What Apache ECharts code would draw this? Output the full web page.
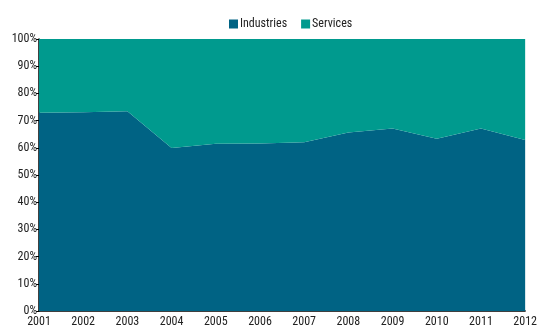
<!DOCTYPE html>
<html>
<head>
<meta charset="utf-8">
<script src="https://cdn.jsdelivr.net/npm/echarts@6/dist/echarts.min.js"></script>
<style>
html,body{margin:0;padding:0;background:#fff;}
#chart{width:540px;height:328px;}
</style>
</head>
<body>
<div id="chart"></div>
<script>
// Share of industries vs services, percent of total
const years = ['2001','2002','2003','2004','2005','2006','2007','2008','2009','2010','2011','2012'];
const industries = [72.9, 73.1, 73.4, 59.9, 61.5, 61.6, 62.0, 65.6, 67.1, 63.3, 67.1, 62.9];
const services = [27.1, 26.9, 26.6, 40.1, 38.5, 38.4, 38.0, 34.4, 32.9, 36.7, 32.9, 37.1];
const yTicks = [0, 10, 20, 30, 40, 50, 60, 70, 80, 90, 100];

const font = '"Liberation Sans Narrow", "Roboto Condensed", "DejaVu Sans Condensed", Arial, sans-serif';

const chart = echarts.init(document.getElementById('chart'));
chart.setOption({
  animation: false,
  textStyle: { fontFamily: font },
  legend: {
    top: 13,
    left: 224,
    itemWidth: 9,
    itemHeight: 9,
    itemGap: 14,
    icon: 'rect',
    textStyle: { fontSize: 12, color: '#222', fontFamily: font, padding: [0, 0, 0, -3] },
    data: ['Industries', 'Services']
  },
  grid: { left: 39, right: 11, top: 39, bottom: 11 },
  xAxis: {
    type: 'category',
    data: years,
    boundaryGap: false,
    axisLine: { lineStyle: { color: '#000', width: 1.5 } },
    axisTick: { show: false },
    axisLabel: { color: '#222', fontSize: 12, margin: 5, fontFamily: font }
  },
  yAxis: {
    type: 'value',
    min: yTicks[0],
    max: yTicks[yTicks.length - 1],
    interval: 10,
    axisLine: { show: true, lineStyle: { color: '#000', width: 1.5 } },
    axisTick: { show: true, length: 3, lineStyle: { color: '#000' } },
    splitLine: { show: false },
    axisLabel: { color: '#222', fontSize: 12, margin: 2, fontFamily: font, formatter: '{value}%' }
  },
  series: [
    {
      name: 'Industries',
      type: 'line',
      stack: 'total',
      data: industries,
      symbol: 'none',
      lineStyle: { width: 0 },
      areaStyle: { color: '#006384', opacity: 1 },
      itemStyle: { color: '#006384' }
    },
    {
      name: 'Services',
      type: 'line',
      stack: 'total',
      data: services,
      symbol: 'none',
      lineStyle: { width: 0 },
      areaStyle: { color: '#009a8e', opacity: 1 },
      itemStyle: { color: '#009a8e' }
    }
  ]
});
</script>
</body>
</html>
